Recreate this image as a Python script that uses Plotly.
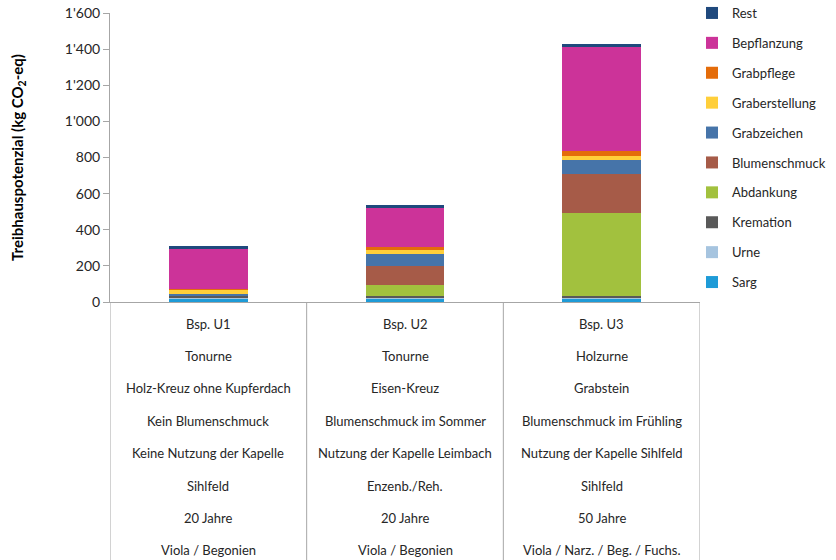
import plotly.graph_objects as go

# Three example scenarios (stacked greenhouse-gas contributions, kg CO2-eq)
categories = ["Bsp. U1", "Bsp. U2", "Bsp. U3"]

sarg = [22, 22, 22]
urne = [1, 1, 3]
kremation = [11, 9, 11]
abdankung = [0, 63, 456]
blumenschmuck = [0, 103, 218]
grabzeichen = [11, 70, 76]
graberstellung = [22, 22, 22]
grabpflege = [7, 15, 26]
bepflanzung = [221, 214, 578]
rest = [17, 18, 18]

series_names = ["Sarg", "Urne", "Kremation", "Abdankung", "Blumenschmuck",
                "Grabzeichen", "Graberstellung", "Grabpflege", "Bepflanzung", "Rest"]
series_values = [sarg, urne, kremation, abdankung, blumenschmuck,
                 grabzeichen, graberstellung, grabpflege, bepflanzung, rest]
series_colors = ["#1E9BD7", "#A6C4DF", "#595959", "#A2C13E", "#A65B48",
                 "#4674A9", "#FFCF3A", "#E46C0A", "#CC3399", "#1F497D"]

# Scenario descriptions shown in the table below the chart
table_rows = [
    ["Bsp. U1", "Bsp. U2", "Bsp. U3"],
    ["Tonurne", "Tonurne", "Holzurne"],
    ["Holz-Kreuz ohne Kupferdach", "Eisen-Kreuz", "Grabstein"],
    ["Kein Blumenschmuck", "Blumenschmuck im Sommer", "Blumenschmuck im Frühling"],
    ["Keine Nutzung der Kapelle", "Nutzung der Kapelle Leimbach", "Nutzung der Kapelle Sihlfeld"],
    ["Sihlfeld", "Enzenb./Reh.", "Sihlfeld"],
    ["20 Jahre", "20 Jahre", "50 Jahre"],
    ["Viola / Begonien", "Viola / Begonien", "Viola / Narz. / Beg. / Fuchs."],
]

y_ticks = [0, 200, 400, 600, 800, 1000, 1200, 1400, 1600]
y_ticktext = ["0", "200", "400", "600", "800", "1'000", "1'200", "1'400", "1'600"]

FONT = "Lato, 'Open Sans', sans-serif"
TEXT_COLOR = "#262626"
LINE_COLOR = "#A6A6A6"

W, H = 836, 560
M_L, M_R, M_T, M_B = 110, 136, 13, 258
plot_w = W - M_L - M_R
plot_h = H - M_T - M_B

fig = go.Figure()
n = len(series_names)
for i, (name, vals, col) in enumerate(zip(series_names, series_values, series_colors)):
    fig.add_trace(go.Bar(
        x=categories, y=vals, name=name, marker_color=col,
        marker_line_width=0, legendgroup=name, legendrank=n - i,
    ))

# table text: rows spaced evenly below the category axis
row_first = 21.5
row_step = 32.4
annotations = []
for r, row in enumerate(table_rows):
    for c, txt in enumerate(row):
        annotations.append(dict(
            x=categories[c], xref="x",
            y=-(row_first + r * row_step) / plot_h, yref="paper",
            text=txt, showarrow=False, xanchor="center", yanchor="middle",
            font=dict(family=FONT, size=13, color=TEXT_COLOR),
        ))

# table grid: vertical separators at category boundaries
shapes = []
for b in [-0.5, 0.5, 1.5, 2.5]:
    shapes.append(dict(
        type="line", xref="x", yref="paper", x0=b, x1=b,
        y0=0, y1=-(H - M_T) / plot_h,
        line=dict(color=LINE_COLOR, width=1),
    ))

fig.update_layout(
    width=W, height=H,
    margin=dict(l=M_L, r=M_R, t=M_T, b=M_B, autoexpand=False),
    paper_bgcolor="white", plot_bgcolor="white",
    barmode="stack", bargap=0.6,
    font=dict(family=FONT, size=13, color=TEXT_COLOR),
    xaxis=dict(
        range=[-0.5, 2.5], showticklabels=False, ticks="",
        showline=True, linecolor=LINE_COLOR, linewidth=1,
        showgrid=False, zeroline=False,
    ),
    yaxis=dict(
        range=[0, 1600], tickvals=y_ticks, ticktext=y_ticktext,
        ticks="outside", ticklen=6, tickcolor=LINE_COLOR,
        showline=True, linecolor=LINE_COLOR, linewidth=1,
        showgrid=False, zeroline=False,
        tickfont=dict(family=FONT, size=14, color=TEXT_COLOR),
        title=dict(
            text="<b>Treibhauspotenzial (kg CO<sub>2</sub>-eq)</b>",
            font=dict(family=FONT, size=15, color="black"),
            standoff=37,
        ),
    ),
    legend=dict(
        x=(692 - M_L) / plot_w, xanchor="left",
        y=(plot_h + M_T + 2) / plot_h, yanchor="top",
        traceorder="grouped", tracegroupgap=10,
        font=dict(family=FONT, size=13, color=TEXT_COLOR),
        itemwidth=30, bgcolor="rgba(0,0,0,0)", maxheight=1,
    ),
    annotations=annotations,
    shapes=shapes,
)

fig.write_html("out.html")
